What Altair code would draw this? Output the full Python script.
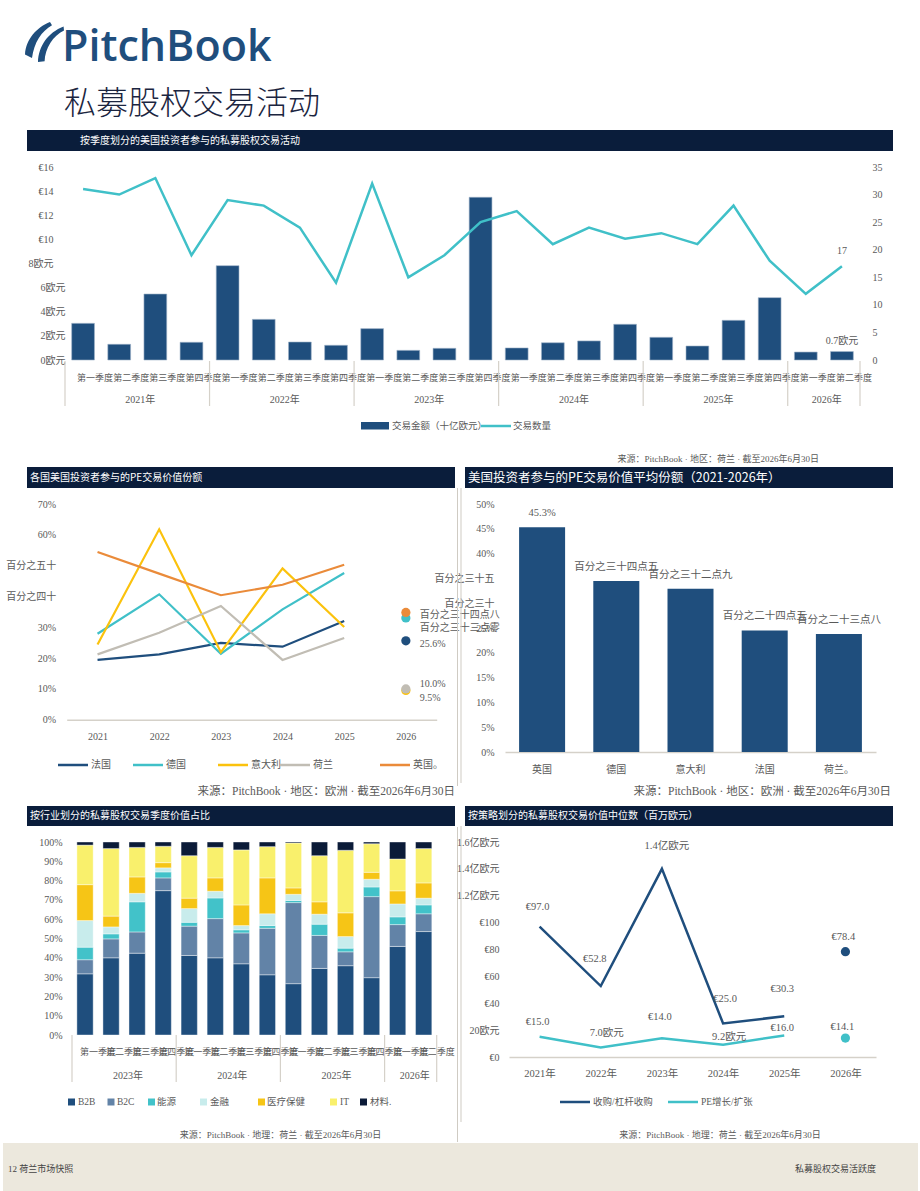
import altair as alt
import pandas as pd

# ---------------------------------------------------------------- data
QUARTER_NAMES = ["第一季度", "第二季度", "第三季度", "第四季度"]

# Quarterly deal activity with US investor participation
deal_years = (["2021年"] * 4 + ["2022年"] * 4 + ["2023年"] * 4 + ["2024年"] * 4
              + ["2025年"] * 4 + ["2026年"] * 2)
deal_quarters = QUARTER_NAMES * 5 + QUARTER_NAMES[:2]
deal_value = [3.04, 1.30, 5.47, 1.47, 7.82, 3.37, 1.49, 1.22, 2.60, 0.80, 0.97, 13.49,
              1.00, 1.43, 1.58, 2.96, 1.88, 1.16, 3.29, 5.17, 0.66, 0.7]
deal_count = [31, 30, 33, 19, 29, 28, 24, 14, 32, 15, 19, 25,
              27, 21, 24, 22, 23, 21, 28, 18, 12, 17]

# Share of PE deal value with US investor participation, by country
share_years = ["2021", "2022", "2023", "2024", "2025", "2026"]
share_countries = ["法国", "德国", "意大利", "荷兰", "英国"]
share_legend = ["法国", "德国", "意大利", "荷兰", "英国。"]
share_france = [19.4, 21.2, 24.9, 23.7, 32.0, 25.6]
share_germany = [27.9, 40.7, 21.4, 35.8, 47.6, 33.0]
share_italy = [24.4, 61.8, 21.9, 49.1, 30.1, 9.5]
share_netherlands = [21.2, 28.2, 36.9, 19.4, 26.5, 10.0]
share_uk = [54.4, 47.4, 40.4, 43.8, 50.3, 34.8]
share_latest_labels = ["25.6%", "百分之三十三点零", "9.5%", "10.0%", "百分之三十四点八"]

# Average share 2021-2026
avg_countries = ["英国", "德国", "意大利", "法国", "荷兰。"]
avg_share = [45.3, 34.5, 32.9, 24.5, 23.8]
avg_labels = ["45.3%", "百分之三十四点五", "百分之三十二点九", "百分之二十四点五", "百分之二十三点八"]

# Quarterly deal value by sector (%)
sector_years = ["2023年"] * 4 + ["2024年"] * 4 + ["2025年"] * 4 + ["2026年"] * 2
sector_quarters = QUARTER_NAMES * 3 + QUARTER_NAMES[:2]
sector_names = ["B2B", "B2C", "能源", "金融", "医疗保健", "IT", "材料"]
sector_legend = ["B2B", "B2C", "能源", "金融", "医疗保健", "IT", "材料."]
sector_b2b = [31.7, 40.0, 42.4, 74.8, 41.2, 40.0, 36.9, 31.2, 26.6, 34.5, 35.9, 29.7, 45.9, 53.6]
sector_b2c = [7.3, 9.8, 11.0, 6.6, 15.2, 20.3, 16.0, 24.1, 42.0, 17.1, 7.2, 42.0, 11.3, 9.2]
sector_energy = [6.5, 2.6, 15.6, 3.1, 2.0, 10.7, 1.6, 1.4, 1.1, 5.8, 1.9, 5.0, 4.0, 4.6]
sector_finance = [13.8, 3.6, 4.4, 2.1, 7.1, 3.5, 2.2, 6.1, 3.2, 5.2, 6.0, 4.0, 6.7, 3.5]
sector_health = [18.6, 5.6, 8.5, 2.7, 5.4, 6.9, 10.7, 18.6, 3.3, 6.4, 12.3, 3.6, 6.8, 7.9]
sector_it = [20.5, 35.0, 15.3, 8.5, 22.0, 15.8, 28.5, 16.2, 23.3, 23.9, 32.4, 14.8, 16.5, 17.8]
sector_materials = [1.6, 3.4, 2.8, 2.2, 7.1, 2.8, 4.1, 2.4, 0.5, 7.1, 4.3, 0.9, 8.8, 3.4]

# Median deal value by strategy (EUR M)
strategy_years = ["2021年", "2022年", "2023年", "2024年", "2025年", "2026年"]
strategy_names = ["收购/杠杆收购", "PE增长/扩张"]
buyout_median = [97.0, 52.8, 140.0, 25.0, 30.3, 78.4]
growth_median = [15.0, 7.0, 14.0, 9.2, 16.0, 14.1]
buyout_labels = ["€97.0", "€52.8", "1.4亿欧元", "€25.0", "€30.3", "€78.4"]
growth_labels = ["€15.0", "7.0欧元", "€14.0", "9.2欧元", "€16.0", "€14.1"]

# ---------------------------------------------------------------- style
NAVY = "#0a1d3b"
BLUE = "#1f4e7d"
TEAL = "#40c0c8"
YELLOW = "#fbc20d"
GRAY = "#c1bdb4"
ORANGE = "#ea8b3a"
AXIS = "#d5d1c9"
TEXT = "#595959"
SERIF = "Liberation Serif, Noto Sans CJK SC"
SANS = "Noto Sans CJK SC"
sector_colors = [BLUE, "#6283a7", "#42c2c9", "#c8ecec", "#f6c516", "#f9f06c", "#0b1b38"]
PAGE_W = 920

ONE = pd.DataFrame({"k": [0]})


def text_at(txt, x, y, size=10, color=TEXT, align="left", font=SERIF, weight=400,
            baseline="middle"):
    return alt.Chart(ONE).mark_text(
        text=txt, align=align, baseline=baseline, fontSize=size, color=color,
        font=font, fontWeight=weight,
    ).encode(x=alt.value(x), y=alt.value(y))


def box(x1, x2, y1, y2, color, opacity=1):
    return alt.Chart(ONE).mark_rect(color=color, opacity=opacity).encode(
        x=alt.value(x1), x2=alt.value(x2), y=alt.value(y1), y2=alt.value(y2))


def hline(x1, x2, y, color, width):
    return alt.Chart(ONE).mark_rule(color=color, strokeWidth=width).encode(
        x=alt.value(x1), x2=alt.value(x2), y=alt.value(y))


def vline(x, y1, y2, color, width):
    return alt.Chart(ONE).mark_rule(color=color, strokeWidth=width).encode(
        x=alt.value(x), y=alt.value(y1), y2=alt.value(y2))


def strip(h, *layers):
    base = box(0, 1, 0, 1, "white", opacity=0)
    return alt.layer(base, *layers).properties(width=PAGE_W, height=h)


def quarter_axis(ids, years, quarters, scale, span, inner, base_y, q_y, q_dx,
                 sep_len, label_y, label_dx):
    """Quarter names, year separators and centred year labels under a band axis."""
    step = span / len(ids)
    half_gap = inner * step / 2
    firsts, anchors, names = [], [], []
    for yr in dict.fromkeys(years):
        members = [i for i, y in zip(ids, years) if y == yr]
        firsts.append(members[0])
        anchors.append(members[len(members) // 2 - 1])
        names.append(yr)
    qlabels = alt.Chart(pd.DataFrame({"qid": ids, "quarter": quarters})).mark_text(
        dx=q_dx, font=SANS, fontSize=9, color=TEXT).encode(
        x=alt.X("qid:N", scale=scale, axis=None), y=alt.value(q_y), text="quarter:N")
    seps = alt.Chart(pd.DataFrame({"qid": firsts})).mark_rule(
        color=AXIS, strokeWidth=1.2, xOffset=-half_gap).encode(
        x=alt.X("qid:N", scale=scale, axis=None, bandPosition=0),
        y=alt.value(base_y), y2=alt.value(base_y + sep_len))
    end = alt.Chart(pd.DataFrame({"qid": [ids[-1]]})).mark_rule(
        color=AXIS, strokeWidth=1.2, xOffset=half_gap).encode(
        x=alt.X("qid:N", scale=scale, axis=None, bandPosition=1),
        y=alt.value(base_y), y2=alt.value(base_y + sep_len))
    labels = alt.Chart(pd.DataFrame({"qid": anchors, "year": names})).mark_text(
        dx=step / 2 + label_dx, font=SERIF, fontSize=10, color=TEXT).encode(
        x=alt.X("qid:N", scale=scale, axis=None), y=alt.value(label_y), text="year:N")
    return [qlabels, seps, end, labels]


# ---------------------------------------------------------------- header
logo_path = ("M -0.95 0.62 C -0.9 -0.15 -0.35 -0.75 0.3 -1 L 0.4 -0.84 "
             "C -0.12 -0.55 -0.5 0.02 -0.6 0.8 Z "
             "M -0.3 1 C -0.28 0.2 0.2 -0.48 0.98 -0.78 L 1 -0.58 "
             "C 0.45 -0.32 0.05 0.3 0.03 0.96 Z")
logo_icon = alt.Chart(ONE).mark_point(
    shape=logo_path, filled=True, size=1600, color=BLUE, opacity=1, strokeWidth=0
).encode(x=alt.value(44), y=alt.value(42))

header = strip(
    167,
    logo_icon,
    text_at("PitchBook", 62, 61, size=43, color=BLUE, font="Open Sans", weight=600,
            baseline="alphabetic"),
    text_at("私募股权交易活动", 64, 104, size=32, color="#1b2540", font=SANS, weight=300),
    box(27, 893, 130, 151, NAVY),
    text_at("按季度划分的美国投资者参与的私募股权交易活动", 80, 141, size=10, color="white", font=SANS),
)

# ---------------------------------------------------------------- quarterly activity
TOP_L, TOP_R, TOP_H = 65, 860, 193
deal_df = pd.DataFrame({
    "qid": [y + "|" + q for y, q in zip(deal_years, deal_quarters)],
    "year": deal_years, "value": deal_value, "count": deal_count,
})
deal_ids = list(deal_df["qid"])
deal_scale = alt.Scale(domain=deal_ids, paddingInner=0.37, paddingOuter=0.185,
                       range=[TOP_L, TOP_R])
value_scale = alt.Scale(domain=[0, 16])
count_scale = alt.Scale(domain=[0, 35])

deal_bars = alt.Chart(deal_df).mark_bar(color=BLUE, stroke="#9db2c7", strokeWidth=0.6).encode(
    x=alt.X("qid:N", scale=deal_scale, axis=alt.Axis(
        title=None, labels=False, ticks=False, domainColor=AXIS, domainWidth=1.5)),
    y=alt.Y("value:Q", scale=value_scale, axis=alt.Axis(
        orient="left", title=None, values=list(range(0, 17, 2)), offset=-TOP_L,
        labelExpr="datum.value >= 10 ? '€' + datum.value : datum.value + '欧元'",
        domain=False, ticks=False, grid=False, labelFont=SERIF, labelFontSize=10,
        labelColor=TEXT,
        labelPadding={"condition": {"test": "datum.value < 8", "value": 0}, "value": 12})),
)
deal_line = alt.Chart(deal_df).mark_line(color=TEAL, strokeWidth=2.5).encode(
    x=alt.X("qid:N", scale=deal_scale, axis=None),
    y=alt.Y("count:Q", scale=count_scale, axis=alt.Axis(
        orient="right", title=None, values=list(range(0, 36, 5)), offset=TOP_R - PAGE_W,
        domain=False, ticks=False, grid=False, labelFont=SERIF, labelFontSize=10,
        labelColor=TEXT, labelPadding=12)),
)
last_df = deal_df.iloc[[-1]]
value_label = alt.Chart(last_df).transform_calculate(
    lab="format(datum.value, '.1f') + '欧元'"
).mark_text(dy=-11, font=SERIF, fontSize=10, color=TEXT).encode(
    x=alt.X("qid:N", scale=deal_scale, axis=None),
    y=alt.Y("value:Q", scale=value_scale, axis=None), text="lab:N")
count_label = alt.Chart(last_df).mark_text(dy=-15, font=SERIF, fontSize=10, color=TEXT).encode(
    x=alt.X("qid:N", scale=deal_scale, axis=None),
    y=alt.Y("count:Q", scale=count_scale, axis=None), text=alt.Text("count:Q"))

top_row = alt.layer(
    deal_bars, deal_line, value_label, count_label,
    *quarter_axis(deal_ids, deal_years, deal_quarters, deal_scale, TOP_R - TOP_L, 0.37,
                  TOP_H + 1, TOP_H + 18, 12, 45, TOP_H + 40, 3),
).resolve_scale(y="independent").properties(width=PAGE_W, height=TOP_H)

# strip: legend + source of the top panel, headers of the middle panels
gap1 = strip(
    144,
    box(361, 389, 62, 69.5, BLUE),
    text_at("交易金额（十亿欧元）", 392, 66, size=9.5),
    hline(481, 511, 66, TEAL, 2.5),
    text_at("交易数量", 513, 66, size=9.5),
    text_at("来源：PitchBook · 地区：荷兰 · 截至2026年6月30日", 819, 99, size=9, align="right"),
    box(27, 455, 107, 128, NAVY),
    text_at("各国美国投资者参与的PE交易价值份额", 30, 118, size=10, color="white", font=SANS),
    box(465, 893, 107, 128, NAVY),
    text_at("美国投资者参与的PE交易价值平均份额（2021-2026年）", 468, 118, size=12.5,
            color="white", font=SANS),
)

# ---------------------------------------------------------------- share by country
MID_H = 248
SH_L, SH_R, SH_H = 66.7, 436.7, 215.7
share_rows = []
share_series = [share_france, share_germany, share_italy, share_netherlands, share_uk]
for country, vals, lab in zip(share_countries, share_series, share_latest_labels):
    for yr, v in zip(share_years, vals):
        share_rows.append({"country": country, "year": yr, "share": v,
                           "label": lab if yr == share_years[-1] else ""})
share_df = pd.DataFrame(share_rows)

share_x = alt.X("year:O", scale=alt.Scale(type="point", padding=0.5, domain=share_years,
                                          range=[SH_L, SH_R]),
                axis=alt.Axis(orient="bottom", title=None, labelAngle=0, ticks=False,
                              domainColor=AXIS, domainWidth=1.5, labelPadding=12,
                              labelFont=SERIF, labelFontSize=10, labelColor=TEXT,
                              offset=SH_H - MID_H))
share_y = alt.Y("share:Q", scale=alt.Scale(domain=[0, 70], range=[SH_H, 0]), axis=alt.Axis(
    orient="left", title=None, values=list(range(0, 71, 10)), offset=-SH_L,
    labelExpr="datum.value == 50 ? '百分之五十' : datum.value == 40 ? '百分之四十' : datum.value + '%'",
    domain=False, ticks=False, grid=False, labelFont=SERIF, labelFontSize=10,
    labelColor=TEXT, labelPadding=11))
share_color = alt.Color("country:N", scale=alt.Scale(
    domain=share_countries, range=[BLUE, TEAL, YELLOW, GRAY, ORANGE]), legend=None)

share_lines = alt.Chart(share_df).transform_filter("datum.year != '2026'").mark_line(
    strokeWidth=2.2).encode(x=share_x, y=share_y, color=share_color)
share_dots = alt.Chart(share_df).transform_filter("datum.year == '2026'").mark_circle(
    size=85, opacity=1).encode(x=share_x, y=share_y, color=share_color)
dot_nudge = {"法国": 3, "德国": 10, "意大利": 8, "荷兰": -5, "英国": 3}
share_dot_labels = [
    alt.Chart(share_df).transform_filter(
        f"datum.year == '2026' && datum.country == '{c}'"
    ).mark_text(align="left", dx=14, dy=dot_nudge[c], font=SERIF, fontSize=10, color=TEXT).encode(
        x=share_x, y=share_y, text="label:N")
    for c in share_countries
]
share_panel = alt.layer(share_lines, share_dots, *share_dot_labels)

# ---------------------------------------------------------------- average share
AV_L, AV_R = 505, 876
avg_df = pd.DataFrame({"country": avg_countries, "avg": avg_share, "label": avg_labels})
avg_x = alt.X("country:N", scale=alt.Scale(domain=avg_countries, paddingInner=0.38,
                                           paddingOuter=0.19, range=[AV_L, AV_R]),
              axis=alt.Axis(orient="bottom", title=None, labelAngle=0, ticks=False,
                            domainColor=AXIS, domainWidth=1.5, labelPadding=12,
                            labelFont=SERIF, labelFontSize=10, labelColor=TEXT))
avg_y = alt.Y("avg:Q", scale=alt.Scale(domain=[0, 50]), axis=alt.Axis(
    orient="left", title=None, values=list(range(0, 51, 5)), offset=-AV_L,
    labelExpr="datum.value == 35 ? '百分之三十五' : datum.value == 30 ? '百分之三十' : datum.value + '%'",
    domain=False, ticks=False, grid=False, labelFont=SERIF, labelFontSize=10,
    labelColor=TEXT, labelPadding=11))
avg_bars = alt.Chart(avg_df).mark_bar(color=BLUE).encode(x=avg_x, y=avg_y)
avg_text = alt.Chart(avg_df).mark_text(dy=-14, font=SERIF, fontSize=10.5, color=TEXT).encode(
    x=avg_x, y=avg_y, text="label:N")
avg_panel = alt.layer(avg_bars, avg_text)

mid_row = alt.layer(share_panel, avg_panel).resolve_scale(
    x="independent", y="independent").properties(width=PAGE_W, height=MID_H)

# strip: middle legend + sources, bottom headers, panel dividers
legend_x = [(58, 88, 91), (133, 163, 166), (218, 248, 251), (280, 310, 313), (380, 410, 413)]
legend_layers = []
for (x1, x2, tx), name, col in zip(legend_x, share_legend, [BLUE, TEAL, YELLOW, GRAY, ORANGE]):
    legend_layers.append(hline(x1, x2, 13, col, 2.5))
    legend_layers.append(text_at(name, tx, 13, size=10))

gap2 = strip(
    90,
    *legend_layers,
    text_at("来源：PitchBook · 地区：欧洲 · 截至2026年6月30日", 455, 40, size=11.5, align="right"),
    text_at("来源：PitchBook · 地区：欧洲 · 截至2026年6月30日", 891, 40, size=11.5, align="right"),
    box(27, 455, 54, 74, NAVY),
    text_at("按行业划分的私募股权交易季度价值占比", 30, 64, size=10, color="white", font=SANS),
    box(465, 893, 54, 74, NAVY),
    text_at("按策略划分的私募股权交易价值中位数（百万欧元）", 468, 64, size=10, color="white", font=SANS),
    vline(457.5, -264, 34, "#cfcbc3", 1),
    vline(457.5, 75, 390, "#cfcbc3", 1),
    vline(461, -264, 31, "#cfcbc3", 1),
    vline(461, 74, 370, "#cfcbc3", 1),
)

# ---------------------------------------------------------------- sector mix
BOT_H = 215
SE_L, SE_R, SE_H = 72, 436.7, 193
sector_ids = [y + "|" + q for y, q in zip(sector_years, sector_quarters)]
sector_series = [sector_b2b, sector_b2c, sector_energy, sector_finance, sector_health,
                 sector_it, sector_materials]
sec_rows = []
for rank, (name, vals) in enumerate(zip(sector_names, sector_series)):
    for qid, v in zip(sector_ids, vals):
        sec_rows.append({"qid": qid, "sector": name, "pct": v, "rank": rank})
sec_df = pd.DataFrame(sec_rows)
sec_scale = alt.Scale(domain=sector_ids, paddingInner=0.375, paddingOuter=0.1875,
                      range=[SE_L, SE_R])

sec_bars = alt.Chart(sec_df).mark_bar(stroke="white", strokeWidth=0.4).encode(
    x=alt.X("qid:N", scale=sec_scale, axis=alt.Axis(
        orient="bottom", title=None, labels=False, ticks=False, domainColor=AXIS,
        domainWidth=1.5, offset=SE_H - BOT_H)),
    y=alt.Y("pct:Q", stack="zero", scale=alt.Scale(domain=[0, 100], range=[SE_H, 0]),
            axis=alt.Axis(
                orient="left", title=None, values=list(range(0, 101, 10)),
                labelExpr="datum.value + '%'", offset=-SE_L, domain=False, ticks=False,
                grid=False, labelFont=SERIF, labelFontSize=10, labelColor=TEXT,
                labelPadding=10)),
    color=alt.Color("sector:N", scale=alt.Scale(domain=sector_names, range=sector_colors),
                    legend=None),
    order=alt.Order("rank:Q", sort="ascending"),
)
sec_panel = alt.layer(
    sec_bars,
    *quarter_axis(sector_ids, sector_years, sector_quarters, sec_scale, SE_R - SE_L, 0.375,
                  SE_H, SE_H + 17, 13, 47, SE_H + 41, 4),
)

# ---------------------------------------------------------------- median by strategy
ST_L, ST_R = 509, 876
strat_rows = []
for name, vals, labs in zip(strategy_names, [buyout_median, growth_median],
                            [buyout_labels, growth_labels]):
    for yr, v, lab in zip(strategy_years, vals, labs):
        strat_rows.append({"strategy": name, "year": yr, "value": v, "label": lab})
strat_df = pd.DataFrame(strat_rows)

strat_x = alt.X("year:O", scale=alt.Scale(type="point", padding=0.5, domain=strategy_years,
                                          range=[ST_L, ST_R]),
                axis=alt.Axis(orient="bottom", title=None, labelAngle=0, ticks=False,
                              domainColor=AXIS, domainWidth=1.5, labelPadding=11,
                              labelFont=SERIF, labelFontSize=10.5, labelColor=TEXT))
strat_y = alt.Y("value:Q", scale=alt.Scale(domain=[0, 160]), axis=alt.Axis(
    orient="left", title=None, values=list(range(0, 161, 20)), offset=-ST_L,
    labelExpr=("datum.value >= 120 ? format(datum.value / 100, '.1f') + '亿欧元' : "
               "datum.value == 20 ? '20欧元' : '€' + datum.value"),
    domain=False, ticks=False, grid=False, labelFont=SERIF, labelFontSize=10,
    labelColor=TEXT, labelPadding=10))

label_nudge = {
    strategy_names[0]: [(-2, -20), (-6, -27), (5, -23), (2, -24), (-2, -27), (-2, -15)],
    strategy_names[1]: [(-2, -15), (6, -15), (-2, -21), (6, -8), (-2, -8), (-3, -11)],
}
strat_layers = []
for name, col in zip(strategy_names, [BLUE, TEAL]):
    sub = alt.Chart(strat_df).transform_filter(alt.datum.strategy == name)
    strat_layers.append(sub.transform_filter("datum.year != '2026年'").mark_line(
        color=col, strokeWidth=2.5).encode(x=strat_x, y=strat_y))
    strat_layers.append(sub.transform_filter("datum.year == '2026年'").mark_circle(
        color=col, size=85, opacity=1).encode(x=strat_x, y=strat_y))
for name in strategy_names:
    for yr, (dx, dy) in zip(strategy_years, label_nudge[name]):
        strat_layers.append(
            alt.Chart(strat_df).transform_filter(
                f"datum.strategy == '{name}' && datum.year == '{yr}'"
            ).mark_text(dx=dx, dy=dy, font=SERIF, fontSize=10.5, color=TEXT).encode(
                x=strat_x, y=strat_y, text="label:N"))
strat_panel = alt.layer(*strat_layers)

bottom_row = alt.layer(sec_panel, strat_panel).resolve_scale(
    x="independent", y="independent").properties(width=PAGE_W, height=BOT_H)

# strip: bottom legends + sources
square_x = [68, 107.5, 148, 200, 258, 330, 360]
text_x = [78, 117, 157, 210, 267, 340, 370]
sec_legend_layers = []
for sx, tx, name, col in zip(square_x, text_x, sector_legend, sector_colors):
    sec_legend_layers.append(box(sx, sx + 7, 41.5, 48.5, col))
    sec_legend_layers.append(text_at(name, tx, 45, size=9.5))

gap3 = strip(
    86,
    *sec_legend_layers,
    hline(560, 590, 45, BLUE, 2.5),
    text_at(strategy_names[0], 593, 45, size=9.5),
    hline(668, 698, 45, TEAL, 2.5),
    text_at(strategy_names[1], 701, 45, size=9.5),
    text_at("来源：PitchBook · 地理：荷兰 · 截至2026年6月30日", 280.5, 78, size=9, align="center"),
    text_at("来源：PitchBook · 地理：荷兰 · 截至2026年6月30日", 720, 78, size=9, align="center"),
)

# ---------------------------------------------------------------- footer
footer = strip(
    48,
    box(3, 918, 0, 48, "#ece8dd"),
    text_at("12 荷兰市场快照", 8, 26, size=9, color="#444444"),
    text_at("私募股权交易活跃度", 876, 26, size=9, color="#444444", align="right"),
)

chart = alt.vconcat(
    header, top_row, gap1, mid_row, gap2, bottom_row, gap3, footer,
    spacing=0, bounds="flush",
).resolve_scale(color="independent").properties(
    padding=0, background="white"
).configure_view(stroke=None).configure_axis(grid=False)

chart.save("out.html", embed_options={"renderer": "svg", "actions": False})
